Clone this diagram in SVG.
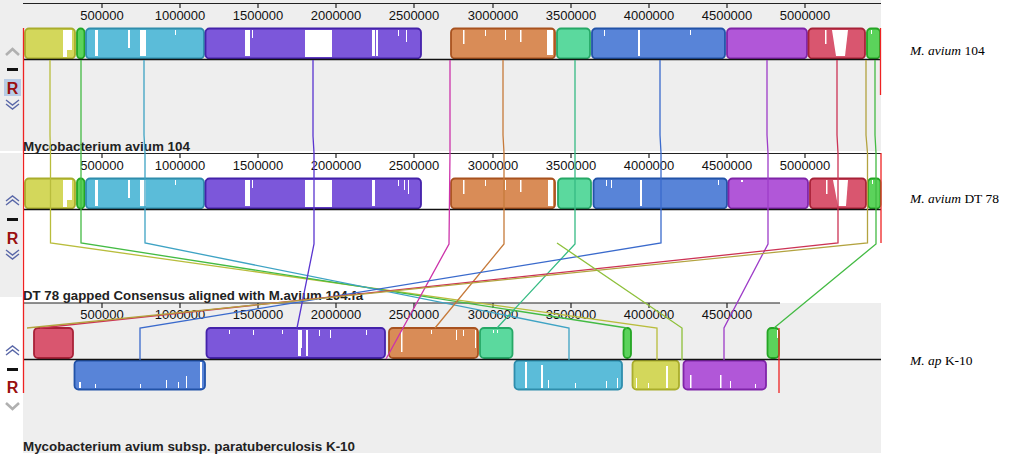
<svg xmlns="http://www.w3.org/2000/svg" width="1028" height="457" viewBox="0 0 1028 457">
<style>
.num{font-family:"Liberation Sans",Arial,sans-serif;font-size:13px;fill:#111;text-anchor:middle}
.lbl{font-family:"Liberation Sans",Arial,sans-serif;font-size:12.5px;font-weight:bold;fill:#222}
.sp{font-family:"Liberation Serif","Times New Roman",serif;font-size:13.5px;fill:#000}
.ax{stroke:#222;stroke-width:1.2;fill:none}
.mid{stroke:#111;stroke-width:1.6}
.tk{stroke:#222;stroke-width:1.2}
.b{stroke-width:1.8;rx:4;ry:4}
.w{fill:#fff}
.c{fill:none;stroke-width:1.3}
.R{font-family:"Liberation Sans",Arial,sans-serif;font-size:16px;font-weight:bold;fill:#9a1010;text-anchor:middle}
.chg{fill:none;stroke:#b0b0b0;stroke-width:2.6}
.chb{fill:none;stroke:#5a68a8;stroke-width:1.4}
.y{fill:#d3d75b;stroke:#a9ad2c}.g{fill:#5bd35b;stroke:#24a524}.cy{fill:#5bbcd9;stroke:#2f8dac}
.pu{fill:#7c57da;stroke:#4422aa}.or{fill:#d98c57;stroke:#a8521f}.te{fill:#5bd99e;stroke:#26a866}
.bl{fill:#5884d8;stroke:#2253a8}.mg{fill:#b157d8;stroke:#7f24a8}.rd{fill:#d9566f;stroke:#a82238}
</style>
<rect x="0" y="0" width="1028" height="457" fill="#fff"/>
<!-- panel backgrounds -->
<rect x="0" y="0" width="881" height="151" fill="#eeeeee"/>
<rect x="0" y="153" width="22" height="144" fill="#eeeeee"/>
<rect x="23" y="303" width="858" height="150" fill="#eeeeee"/>

<!-- controls -->
<g id="controls">
<polyline class="chg" points="6,55 12.5,49 19,55"/>
<rect x="7" y="68" width="11" height="3" fill="#111"/>
<rect x="4" y="79" width="17" height="17" fill="#b8cce6"/>
<text class="R" x="12.5" y="94">R</text>
<polyline class="chb" points="6,100 12.5,105 19,100"/>
<polyline class="chb" points="6,104 12.5,109 19,104"/>

<polyline class="chb" points="6,201 12.5,196 19,201"/>
<polyline class="chb" points="6,205 12.5,200 19,205"/>
<rect x="7" y="218" width="11" height="3" fill="#111"/>
<text class="R" x="12.5" y="244">R</text>
<polyline class="chb" points="6,250 12.5,255 19,250"/>
<polyline class="chb" points="6,254 12.5,259 19,254"/>

<polyline class="chb" points="6,351 12.5,346 19,351"/>
<polyline class="chb" points="6,355 12.5,350 19,355"/>
<rect x="7" y="368" width="11" height="3" fill="#111"/>
<text class="R" x="12.5" y="393">R</text>
<polyline class="chg" points="6,403 12.5,409 19,403"/>
</g>

<!-- Panel 1 -->
<g id="genome1">
<line class="ax" x1="23" y1="3.5" x2="881" y2="3.5"/>
<g class="tk">
<line x1="102" y1="3" x2="102" y2="8"/><line x1="180" y1="3" x2="180" y2="8"/><line x1="258" y1="3" x2="258" y2="8"/><line x1="336" y1="3" x2="336" y2="8"/><line x1="414" y1="3" x2="414" y2="8"/><line x1="493" y1="3" x2="493" y2="8"/><line x1="571" y1="3" x2="571" y2="8"/><line x1="649" y1="3" x2="649" y2="8"/><line x1="727" y1="3" x2="727" y2="8"/><line x1="805" y1="3" x2="805" y2="8"/>
</g>
<text class="num" x="102" y="20">500000</text><text class="num" x="180" y="20">1000000</text><text class="num" x="258" y="20">1500000</text><text class="num" x="336" y="20">2000000</text><text class="num" x="414" y="20">2500000</text><text class="num" x="493" y="20">3000000</text><text class="num" x="571" y="20">3500000</text><text class="num" x="649" y="20">4000000</text><text class="num" x="727" y="20">4500000</text><text class="num" x="805" y="20">5000000</text>
<rect class="b y" x="25" y="28.5" width="50" height="30"/>
<rect class="b g" x="77" y="28.5" width="7.5" height="30" rx="3.5" ry="3.5"/>
<rect class="b cy" x="86" y="28.5" width="118" height="30"/>
<rect class="b pu" x="205.5" y="28.5" width="215.5" height="30"/>
<rect class="b or" x="451" y="28.5" width="104" height="30"/>
<rect class="b te" x="557" y="28.5" width="33" height="30"/>
<rect class="b bl" x="592" y="28.5" width="133" height="30"/>
<rect class="b mg" x="727" y="28.5" width="80" height="30"/>
<rect class="b rd" x="808.5" y="28.5" width="56.5" height="30"/>
<rect class="b g" x="867" y="28.5" width="13" height="30"/>
<g class="w">
<rect x="63" y="30" width="4" height="27"/><rect x="67" y="30" width="5" height="20"/>
<rect x="95" y="30" width="3" height="26"/><rect x="128" y="30" width="2" height="18"/><rect x="140" y="30" width="6" height="26"/><rect x="175" y="30" width="1" height="5"/>
<rect x="245" y="30" width="5" height="26"/><rect x="252" y="30" width="1" height="8"/><rect x="305" y="30" width="27" height="27"/><rect x="372" y="30" width="3" height="26"/><rect x="376" y="30" width="2" height="26"/><rect x="398" y="30" width="1" height="6"/><rect x="406" y="30" width="1" height="12"/>
<rect x="463" y="30" width="1.5" height="14"/><rect x="485" y="30" width="1" height="6"/><rect x="505" y="30" width="1" height="10"/><rect x="520" y="30" width="1.5" height="12"/><rect x="547" y="30" width="6" height="25"/>
<rect x="638" y="30" width="2" height="26"/><rect x="604" y="30" width="1" height="6"/><rect x="690" y="30" width="1" height="5"/>
<rect x="825" y="30" width="1.5" height="14"/><polygon points="832,30 848,30 845,56 836,56"/>
<rect x="871" y="30" width="1" height="4"/>
</g>
<line class="mid" x1="23" y1="59.5" x2="881" y2="59.5"/>
<text class="lbl" x="23" y="151" textLength="167" lengthAdjust="spacingAndGlyphs">Mycobacterium avium 104</text>
</g>

<!-- Panel 2 -->
<g id="genome2">
<line class="ax" x1="23" y1="153.5" x2="881" y2="153.5"/>
<g class="tk">
<line x1="102" y1="153" x2="102" y2="158"/><line x1="180" y1="153" x2="180" y2="158"/><line x1="258" y1="153" x2="258" y2="158"/><line x1="336" y1="153" x2="336" y2="158"/><line x1="414" y1="153" x2="414" y2="158"/><line x1="493" y1="153" x2="493" y2="158"/><line x1="571" y1="153" x2="571" y2="158"/><line x1="649" y1="153" x2="649" y2="158"/><line x1="727" y1="153" x2="727" y2="158"/><line x1="805" y1="153" x2="805" y2="158"/>
</g>
<text class="num" x="102" y="170">500000</text><text class="num" x="180" y="170">1000000</text><text class="num" x="258" y="170">1500000</text><text class="num" x="336" y="170">2000000</text><text class="num" x="414" y="170">2500000</text><text class="num" x="493" y="170">3000000</text><text class="num" x="571" y="170">3500000</text><text class="num" x="649" y="170">4000000</text><text class="num" x="727" y="170">4500000</text><text class="num" x="805" y="170">5000000</text>
<rect class="b y" x="25" y="178.5" width="50" height="30"/>
<rect class="b g" x="77" y="178.5" width="7.5" height="30" rx="3.5" ry="3.5"/>
<rect class="b cy" x="86" y="178.5" width="118" height="30"/>
<rect class="b pu" x="205.5" y="178.5" width="215.5" height="30"/>
<rect class="b or" x="451" y="178.5" width="104" height="30"/>
<rect class="b te" x="558" y="178.5" width="33" height="30"/>
<rect class="b bl" x="593.5" y="178.5" width="133.5" height="30"/>
<rect class="b mg" x="728.5" y="178.5" width="79.5" height="30"/>
<rect class="b rd" x="810" y="178.5" width="56" height="30"/>
<rect class="b g" x="868" y="178.5" width="12.5" height="30"/>
<g class="w">
<rect x="63" y="180" width="4" height="27"/><rect x="67" y="180" width="5" height="20"/>
<rect x="95" y="180" width="3" height="26"/><rect x="128" y="180" width="2" height="18"/><rect x="140" y="180" width="6" height="26"/><rect x="175" y="180" width="1" height="5"/>
<rect x="245" y="180" width="5" height="26"/><rect x="252" y="180" width="1" height="8"/><rect x="305" y="180" width="27" height="27"/><rect x="372" y="180" width="3" height="26"/><rect x="398" y="180" width="1" height="6"/><rect x="404" y="180" width="1" height="10"/><rect x="408" y="180" width="1" height="14"/>
<rect x="463" y="180" width="1.5" height="14"/><rect x="485" y="180" width="1" height="6"/><rect x="505" y="180" width="1" height="10"/><rect x="520" y="180" width="1.5" height="12"/><rect x="548" y="180" width="5" height="26"/>
<rect x="640" y="180" width="2" height="26"/><rect x="606" y="180" width="1" height="6"/><rect x="611" y="180" width="1" height="8"/><rect x="718" y="180" width="1" height="5"/>
<rect x="741" y="180" width="2" height="2"/>
<rect x="826" y="180" width="1.5" height="14"/><polygon points="833,180 848,180 846,206 838,206"/>
<rect x="872" y="180" width="1" height="4"/>
</g>
<line class="mid" x1="23" y1="209.5" x2="881" y2="209.5"/>
<text class="lbl" x="23" y="300" textLength="340" lengthAdjust="spacingAndGlyphs">DT 78 gapped Consensus aligned with M.avium 104.fa</text>
</g>

<!-- Panel 3 -->
<g id="genome3">
<line class="ax" x1="23" y1="303" x2="780" y2="303"/>
<g class="tk">
<line x1="102" y1="303" x2="102" y2="308"/><line x1="180" y1="303" x2="180" y2="308"/><line x1="258" y1="303" x2="258" y2="308"/><line x1="336" y1="303" x2="336" y2="308"/><line x1="414" y1="303" x2="414" y2="308"/><line x1="493" y1="303" x2="493" y2="308"/><line x1="571" y1="303" x2="571" y2="308"/><line x1="649" y1="303" x2="649" y2="308"/><line x1="727" y1="303" x2="727" y2="308"/>
</g>
<text class="num" x="102" y="319">500000</text><text class="num" x="180" y="319">1000000</text><text class="num" x="258" y="319">1500000</text><text class="num" x="336" y="319">2000000</text><text class="num" x="414" y="319">2500000</text><text class="num" x="493" y="319">3000000</text><text class="num" x="571" y="319">3500000</text><text class="num" x="649" y="319">4000000</text><text class="num" x="727" y="319">4500000</text>
<rect class="b rd" x="34" y="328" width="39" height="30"/>
<rect class="b pu" x="206.5" y="328" width="178.5" height="30"/>
<rect class="b or" x="389" y="328" width="89" height="30"/>
<rect class="b te" x="480" y="328" width="32.5" height="30"/>
<rect class="b g" x="623.5" y="328" width="7.5" height="30" rx="3.5" ry="3.5"/>
<rect class="b g" x="767.5" y="328" width="11.5" height="30"/>
<rect class="b bl" x="74.5" y="360.5" width="130.5" height="29"/>
<rect class="b cy" x="514.5" y="360.5" width="107.5" height="29"/>
<rect class="b y" x="632.5" y="360.5" width="46.5" height="29"/>
<rect class="b mg" x="683.5" y="360.5" width="82.5" height="29"/>
<g class="w">
<rect x="229" y="330" width="1" height="4"/><rect x="253" y="330" width="1" height="5"/><rect x="282" y="330" width="1" height="4"/><rect x="298" y="330" width="3" height="26"/><rect x="301" y="330" width="1" height="18"/><rect x="306" y="330" width="2" height="26"/><rect x="319" y="330" width="1" height="6"/><rect x="330" y="330" width="1" height="8"/><rect x="366" y="330" width="1" height="5"/>
<rect x="401" y="330" width="1.5" height="22"/><rect x="431" y="330" width="1" height="4"/><rect x="456" y="330" width="1" height="10"/><rect x="463" y="330" width="1" height="6"/><rect x="475" y="330" width="1" height="18"/>
<rect x="493" y="330" width="1" height="3"/><rect x="497" y="330" width="1" height="3"/>
<rect x="777" y="330" width="1" height="8"/>
<rect x="200" y="362" width="2" height="26"/><rect x="166" y="380" width="1" height="8"/><rect x="186" y="376" width="1" height="12"/><rect x="178" y="382" width="1" height="6"/><rect x="79" y="382" width="2" height="6"/><rect x="95" y="384" width="1" height="4"/><rect x="140" y="384" width="1" height="4"/>
<rect x="525" y="362" width="2" height="26"/><rect x="541" y="365" width="2" height="23"/><rect x="548" y="380" width="1" height="8"/><rect x="575" y="383" width="1" height="5"/><rect x="606" y="381" width="1" height="7"/><rect x="617" y="378" width="1" height="10"/>
<rect x="636" y="378" width="1" height="10"/><rect x="666" y="366" width="2" height="22"/><rect x="648" y="383" width="1" height="5"/>
<rect x="690" y="375" width="1.5" height="13"/><rect x="720" y="375" width="1.5" height="13"/><rect x="730" y="381" width="1" height="7"/><rect x="755" y="384" width="1" height="4"/>
</g>
<line class="mid" x1="23" y1="359.5" x2="881" y2="359.5"/>
<text class="lbl" x="23" y="451" textLength="332" lengthAdjust="spacingAndGlyphs">Mycobacterium avium subsp. paratuberculosis K-10</text>
</g>

<!-- connectors -->
<g id="connectors">
<polyline class="c" stroke="#b9bd3c" points="50,60 50,135 50.5,153 50.5,243 657,328 657,360"/>
<polyline class="c" stroke="#44bb44" points="81,60 81,135 81,153 81,243 627,328"/>
<polyline class="c" stroke="#3ea3c4" points="144,60 144,135 145,153 145,243 569,328 569,360"/>
<polyline class="c" stroke="#5a35d0" points="313,60 313,136 314,153 314,244 297,328"/>
<polyline class="c" stroke="#cc33aa" points="450,60 450,135 450,153 449,244 386,359"/>
<polyline class="c" stroke="#c67a3a" points="503,60 503,135 504,153 504,244 435,328"/>
<polyline class="c" stroke="#36bb84" points="575,60 575,135 575,153 575,244 497,328"/>
<polyline class="c" stroke="#3a6acc" points="660,60 660,135 661,153 661,243 140,328 140,360"/>
<polyline class="c" stroke="#9d3cc8" points="767,60 767,135 768,153 768,244 724,328 724,360"/>
<polyline class="c" stroke="#cc3355" points="837,60 837,135 838,153 838,243 40,328"/>
<polyline class="c" stroke="#b3a33f" points="866,60 866,135 867.5,153 867.5,243 27,328"/>
<polyline class="c" stroke="#44bb44" points="875,60 875,135 876,153 876,244 774,328"/>
<polyline class="c" stroke="#8ec03a" points="557,243 682,328 682,360"/>
<line x1="23.5" y1="28" x2="23.5" y2="393" stroke="#ee2222" stroke-width="1.3"/>
<line x1="880.5" y1="28" x2="880.5" y2="95" stroke="#ee2222" stroke-width="1.3"/>
<line x1="881" y1="153" x2="881" y2="243" stroke="#ee2222" stroke-width="1.3"/>
<line x1="779" y1="328" x2="779" y2="393" stroke="#ee2222" stroke-width="1.3"/>
</g>

<!-- species labels -->
<g id="labels">
<text class="sp" x="910" y="55"><tspan font-style="italic">M. avium</tspan> 104</text>
<text class="sp" x="910" y="203"><tspan font-style="italic">M. avium</tspan> DT 78</text>
<text class="sp" x="910" y="365"><tspan font-style="italic">M. ap</tspan> K-10</text>
</g>
</svg>
